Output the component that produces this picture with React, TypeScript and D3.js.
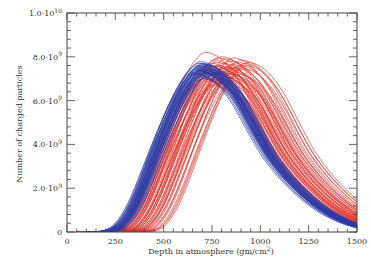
import React from "react";
import * as d3 from "d3";

// Typical normalized shower-profile shape (relative depth t = X - Xmax, value / Nmax)
const templateT = [-700, -550, -500, -450, -400, -350, -300, -250, -200, -150, -100, -50, 0, 50, 100, 150, 200, 250, 300, 350, 400, 450, 500, 550, 600, 650, 700, 750, 800, 850, 900, 950, 1000];
const templateN = [0, 0, 0.004, 0.02, 0.075, 0.175, 0.315, 0.47, 0.62, 0.76, 0.875, 0.96, 1, 0.985, 0.945, 0.88, 0.79, 0.68, 0.57, 0.47, 0.39, 0.32, 0.26, 0.205, 0.158, 0.118, 0.085, 0.058, 0.037, 0.022, 0.012, 0.005, 0];

// Blue showers: depth of maximum (g/cm^2) and maximum size (1e9 particles)
const blueXmax = [668, 675, 682, 690, 695, 700, 705, 710, 715, 720, 725, 730, 688, 698, 702, 712, 718, 684, 694, 706, 722, 735, 740, 662, 672, 680, 692, 708, 716, 726, 686, 696, 704, 714, 678, 700, 710, 690, 720, 745];
const blueNmax = [7.45, 7.6, 7.5, 7.78, 7.3, 7.55, 7.4, 7.65, 7.2, 7.5, 7.35, 7.6, 7.1, 7.7, 7.25, 7.45, 7.05, 7.35, 7.62, 7.15, 7.28, 7.4, 7.18, 7.25, 7.2, 7.7, 7.45, 7.55, 7.38, 7.12, 7.55, 7.42, 7.68, 7.3, 7.4, 7.0, 7.25, 7.35, 7.6, 7.3];

// Red showers
const redXmax = [716, 700, 710, 722, 730, 738, 742, 748, 752, 758, 762, 766, 770, 775, 780, 784, 788, 792, 796, 800, 805, 810, 815, 820, 825, 830, 835, 840, 845, 850, 855, 860, 865, 870, 878, 885, 892, 900, 910, 920, 925, 935, 760, 790, 818, 848, 735, 772, 804, 728, 755];
const redNmax = [8.2, 7.3, 7.0, 7.6, 7.25, 7.45, 6.9, 7.7, 7.15, 7.4, 7.85, 7.05, 7.55, 7.3, 7.95, 6.8, 7.6, 7.2, 7.45, 8.0, 7.1, 7.7, 7.35, 7.9, 6.95, 7.55, 7.25, 7.8, 7.45, 7.05, 7.65, 7.95, 7.3, 7.5, 7.75, 7.2, 7.6, 7.85, 7.45, 7.7, 7.6, 7.75, 7.6, 7.0, 7.5, 7.2, 7.0, 7.75, 7.3, 7.5, 6.7];

const redStart = 50;
const blueStart = 100;

const xMajorTicks = [0, 250, 500, 750, 1000, 1250, 1500];
const yMajorTicks = [0, 2e9, 4e9, 6e9, 8e9, 1e10];
const yTickMantissa = ["0", "2.0", "4.0", "6.0", "8.0", "1.0"];
const yTickExponent = ["", "9", "9", "9", "9", "10"];

const W = 371;
const H = 262;
const L = 67, R = 357, T = 13, B = 232;
const FONT = "DejaVu Serif";

export default function App() {
  const x = d3.scaleLinear().domain([0, 1500]).range([L, R]);
  const y = d3.scaleLinear().domain([0, 1e10]).range([B, T]);

  const line = d3
    .line<[number, number]>()
    .x((d) => x(d[0]))
    .y((d) => y(d[1]))
    .curve(d3.curveMonotoneX);

  const profile = (xmax: number, nmax: number, start: number): [number, number][] => {
    const pts: [number, number][] = [[start, 0]];
    templateT.forEach((t, i) => {
      const X = xmax + t;
      if (X > start + 1) pts.push([X, templateN[i] * nmax * 1e9]);
    });
    return pts;
  };

  const xMinor = d3.range(0, 1501, 50);
  const yMinor = d3.range(0, 1e10 + 1, 4e8);
  const axisColor = "#444";

  return (
    <svg width={W} height={H} style={{ position: "absolute", left: 0, top: 0, background: "#fff" }}>
      <defs>
        <clipPath id="plot">
          <rect x={L} y={T} width={R - L} height={B - T} />
        </clipPath>
      </defs>
      <g clipPath="url(#plot)" fill="none">
        {redXmax.map((xm, i) => (
          <path key={"r" + i} d={line(profile(xm, redNmax[i], redStart)) || ""} stroke="#e5352b" strokeOpacity={0.8} strokeWidth={0.85} />
        ))}
        {blueXmax.map((xm, i) => (
          <path key={"b" + i} d={line(profile(xm, blueNmax[i], blueStart)) || ""} stroke="#2b3ba6" strokeOpacity={0.8} strokeWidth={0.8} />
        ))}
      </g>
      {/* frame */}
      <rect x={L} y={T} width={R - L} height={B - T} fill="none" stroke={axisColor} strokeWidth={1} />
      {/* x ticks */}
      {xMinor.map((v) => {
        const major = v % 250 === 0;
        const len = major ? 7 : 3.5;
        return (
          <g key={"xt" + v} stroke={axisColor} strokeWidth={0.8}>
            <line x1={x(v)} x2={x(v)} y1={B} y2={B - len} />
            <line x1={x(v)} x2={x(v)} y1={T} y2={T + len} />
          </g>
        );
      })}
      {yMinor.map((v, i) => {
        const major = i % 5 === 0;
        const len = major ? 8 : 4;
        return (
          <g key={"yt" + i} stroke={axisColor} strokeWidth={0.8}>
            <line x1={L} x2={L + len} y1={y(v)} y2={y(v)} />
            <line x1={R} x2={R - len} y1={y(v)} y2={y(v)} />
          </g>
        );
      })}
      {/* x tick labels */}
      {xMajorTicks.map((v) => (
        <text key={"xl" + v} x={x(v)} y={243.5} textAnchor="middle" fontFamily={FONT} fontSize={8} fill="#333">
          {v}
        </text>
      ))}
      {/* y tick labels */}
      {yMajorTicks.map((v, i) => (
        <text key={"yl" + i} x={62} y={y(v) + 3} textAnchor="end" fontFamily={FONT} fontSize={8} fill="#333">
          {yTickMantissa[i]}
          {yTickExponent[i] && (
            <>
              <tspan>·10</tspan>
              <tspan dy={-3.5} fontSize={6}>{yTickExponent[i]}</tspan>
            </>
          )}
        </text>
      ))}
      {/* axis titles */}
      <text x={211} y={254} textAnchor="middle" fontFamily={FONT} fontSize={8} fill="#333">
        Depth in atmosphere (gm/cm<tspan dy={-3} fontSize={6}>2</tspan>
        <tspan dy={3}>)</tspan>
      </text>
      <text transform={`translate(22,124) rotate(-90)`} textAnchor="middle" fontFamily={FONT} fontSize={8} fill="#333">
        Number of charged particles
      </text>
    </svg>
  );
}
